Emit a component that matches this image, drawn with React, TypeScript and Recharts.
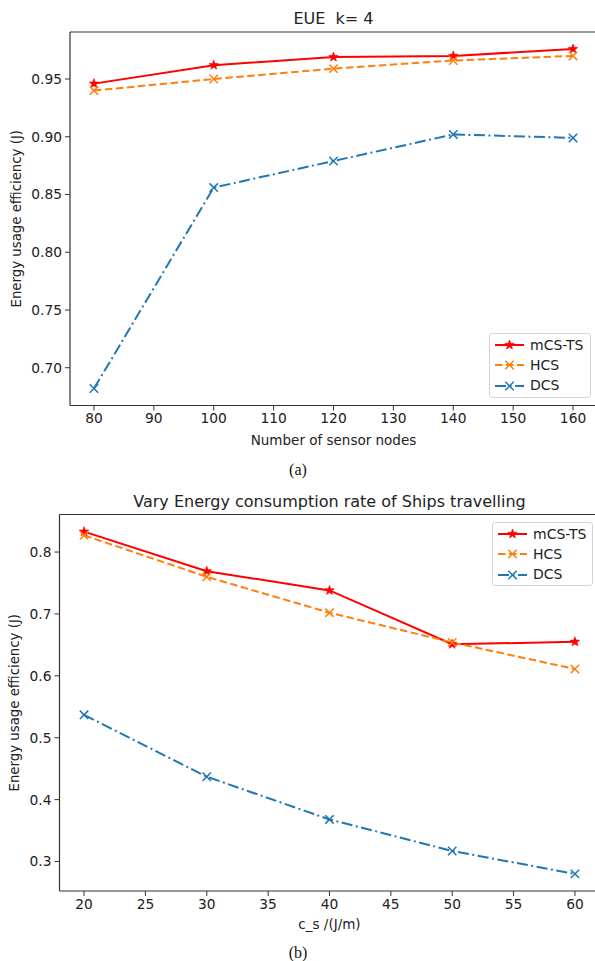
import React from 'react'
import { LineChart, Line, XAxis, YAxis, Legend, ReferenceLine } from 'recharts'

// (a) EUE vs number of sensor nodes
const nodeCounts = [80, 100, 120, 140, 160]
const eueMcsTs = [0.946, 0.962, 0.969, 0.970, 0.976]
const eueHcs = [0.940, 0.950, 0.959, 0.966, 0.970]
const eueDcs = [0.682, 0.856, 0.879, 0.902, 0.899]
const nodeTicks = [80, 90, 100, 110, 120, 130, 140, 150, 160]
const eueTicks = [0.7, 0.75, 0.8, 0.85, 0.9, 0.95]

// (b) EUE vs ship energy consumption rate
const csRates = [20, 30, 40, 50, 60]
const varyMcsTs = [0.833, 0.769, 0.738, 0.651, 0.655]
const varyHcs = [0.827, 0.760, 0.702, 0.654, 0.611]
const varyDcs = [0.537, 0.437, 0.368, 0.317, 0.280]
const csTicks = [20, 25, 30, 35, 40, 45, 50, 55, 60]
const varyTicks = [0.3, 0.4, 0.5, 0.6, 0.7, 0.8]

const FONT = '"DejaVu Sans", Verdana, sans-serif'
const TEXT = '#222'
const SPINE = '#333'

const seriesOrder = ['mcsts', 'hcs', 'dcs']
const seriesStyle: Record<string, { name: string; color: string; dash?: string; marker: 'star' | 'x' }> = {
  mcsts: { name: 'mCS-TS', color: '#ff0000', marker: 'star' },
  hcs: { name: 'HCS', color: '#ff7f0e', dash: '7.5 3.5', marker: 'x' },
  dcs: { name: 'DCS', color: '#1f77b4', dash: '11 3.5 2 3.5', marker: 'x' },
}

function starPoints(cx: number, cy: number, ro: number, ri: number) {
  const pts: string[] = []
  for (let i = 0; i < 10; i++) {
    const r = i % 2 === 0 ? ro : ri
    const a = -Math.PI / 2 + (i * Math.PI) / 5
    pts.push(`${cx + r * Math.cos(a)},${cy + r * Math.sin(a)}`)
  }
  return pts.join(' ')
}

function Marker({ cx, cy, kind, color }: { cx: number; cy: number; kind: 'star' | 'x'; color: string }) {
  if (kind === 'star') {
    return <polygon points={starPoints(cx, cy, 5, 2.1)} fill={color} stroke={color} strokeWidth={0.6} />
  }
  const s = 4.2
  return (
    <g stroke={color} strokeWidth={1.5}>
      <line x1={cx - s} y1={cy - s} x2={cx + s} y2={cy + s} />
      <line x1={cx - s} y1={cy + s} x2={cx + s} y2={cy - s} />
    </g>
  )
}

const makeDot = (key: string) => (props: any) => {
  const st = seriesStyle[key]
  const { cx, cy, index } = props
  if (cx == null || cy == null) return <g key={`${key}-${index}`} />
  return (
    <g key={`${key}-${index}`}>
      <Marker cx={cx} cy={cy} kind={st.marker} color={st.color} />
    </g>
  )
}

function LegendBox(props: any) {
  const items = [...((props.payload || []) as any[])].sort(
    (a, b) => seriesOrder.indexOf(a.dataKey) - seriesOrder.indexOf(b.dataKey),
  )
  return (
    <div
      style={{
        border: '1px solid #d4d4d4',
        borderRadius: 3,
        background: 'rgba(255,255,255,0.85)',
        padding: '1px 0',
        boxSizing: 'border-box',
        width: '100%',
        height: '100%',
      }}
    >
      {items.map((it) => {
        const st = seriesStyle[it.dataKey as string]
        return (
          <div key={st.name} style={{ display: 'flex', alignItems: 'center', height: 20.3 }}>
            <svg width={30} height={12} style={{ marginLeft: 5, marginRight: 9, display: 'block' }}>
              <line x1={0} y1={6} x2={29} y2={6} stroke={st.color} strokeWidth={2} strokeDasharray={st.dash} />
              <Marker cx={14.5} cy={6} kind={st.marker} color={st.color} />
            </svg>
            <span style={{ fontFamily: FONT, fontSize: 14, color: TEXT, lineHeight: '15px', marginLeft: -4 }}>{st.name}</span>
          </div>
        )
      })}
    </div>
  )
}

function padDomain(values: number[]): [number, number] {
  const lo = Math.min(...values)
  const hi = Math.max(...values)
  const m = (hi - lo) * 0.05
  return [lo - m, hi + m]
}

interface PanelProps {
  title: string
  xLabel: string
  xs: number[]
  mcsts: number[]
  hcs: number[]
  dcs: number[]
  xTicks: number[]
  yTicks: number[]
  yDigits: number
  width: number
  height: number
  margin: { top: number; right: number; left: number; bottom: number }
  yAxisWidth: number
  xAxisHeight: number
  yLabelX: number
  xLabelDy: number
  legendPos: { left: number; top: number; width: number; height: number }
}

function Panel(p: PanelProps) {
  const data = p.xs.map((x, i) => ({ x, mcsts: p.mcsts[i], hcs: p.hcs[i], dcs: p.dcs[i] }))
  const xDom = padDomain(p.xs)
  const yDom = padDomain([...p.mcsts, ...p.hcs, ...p.dcs])
  const tickStyle = { fill: TEXT, fontSize: 13.8, fontFamily: FONT }
  return (
    <LineChart width={p.width} height={p.height} data={data} margin={p.margin}>
      <XAxis
        dataKey="x"
        type="number"
        domain={xDom}
        ticks={p.xTicks}
        allowDataOverflow
        height={p.xAxisHeight}
        tick={tickStyle}
        tickSize={5}
        tickMargin={3}
        stroke={SPINE}
        axisLine={{ stroke: SPINE, strokeWidth: 1.2 }}
        tickLine={{ stroke: SPINE }}
        label={(lp: any) => {
          const vb = lp.viewBox
          return (
            <text x={vb.x + vb.width / 2} y={vb.y + p.xLabelDy} textAnchor="middle" fill={TEXT} fontSize={13.5} fontFamily={FONT}>
              {p.xLabel}
            </text>
          )
        }}
      />
      <YAxis
        type="number"
        domain={yDom}
        ticks={p.yTicks}
        allowDataOverflow
        width={p.yAxisWidth}
        tick={tickStyle}
        tickSize={5}
        tickMargin={3}
        tickFormatter={(v: number) => v.toFixed(p.yDigits)}
        axisLine={{ stroke: SPINE, strokeWidth: 1.2 }}
        tickLine={{ stroke: SPINE }}
        label={(lp: any) => {
          const vb = lp.viewBox
          const cy = vb.y + vb.height / 2
          return (
            <text
              x={p.yLabelX}
              y={cy}
              transform={`rotate(-90 ${p.yLabelX} ${cy})`}
              textAnchor="middle"
              fill={TEXT}
              fontSize={13.3}
              fontFamily={FONT}
            >
              Energy usage efficiency (J)
            </text>
          )
        }}
      />
      <ReferenceLine
        y={yDom[1]}
        stroke={SPINE}
        strokeWidth={1.2}
        ifOverflow="visible"
        label={{ value: p.title, position: 'top', offset: 8, fill: TEXT, fontSize: 16, fontFamily: FONT }}
      />
      <Legend
        layout="vertical"
        align="center"
        verticalAlign="middle"
        content={LegendBox}
        wrapperStyle={{ ...p.legendPos, position: 'absolute' }}
      />
      {seriesOrder.map((k) => (
        <Line
          key={k}
          type="linear"
          dataKey={k}
          name={seriesStyle[k].name}
          stroke={seriesStyle[k].color}
          strokeWidth={2}
          strokeDasharray={seriesStyle[k].dash}
          dot={makeDot(k)}
          activeDot={false}
          isAnimationActive={false}
        />
      ))}
    </LineChart>
  )
}

const captionStyle: React.CSSProperties = {
  position: 'absolute',
  width: 40,
  textAlign: 'center',
  fontFamily: '"Liberation Serif", "Times New Roman", serif',
  fontSize: 16,
  color: '#111',
  lineHeight: '18px',
}

export default function App() {
  return (
    <div style={{ position: 'absolute', left: 0, top: 0, width: 595, height: 961, overflow: 'hidden', background: '#fff' }}>
      <div style={{ position: 'absolute', left: 0, top: 0 }}>
        <Panel
          title={'EUE\u00a0\u00a0k= 4'}
          xLabel="Number of sensor nodes"
          xs={nodeCounts}
          mcsts={eueMcsTs}
          hcs={eueHcs}
          dcs={eueDcs}
          xTicks={nodeTicks}
          yTicks={eueTicks}
          yDigits={2}
          width={600}
          height={450}
          margin={{ top: 32, right: 3, left: 0, bottom: 0 }}
          yAxisWidth={70}
          xAxisHeight={44.5}
          yLabelX={21}
          xLabelDy={39.5}
          legendPos={{ left: 489, top: 333, width: 102, height: 65 }}
        />
      </div>
      <div style={{ ...captionStyle, left: 278, top: 461 }}>(a)</div>
      <div style={{ position: 'absolute', left: 0, top: 480 }}>
        <Panel
          title="Vary Energy consumption rate of Ships travelling"
          xLabel="c_s /(J/m)"
          xs={csRates}
          mcsts={varyMcsTs}
          hcs={varyHcs}
          dcs={varyDcs}
          xTicks={csTicks}
          yTicks={varyTicks}
          yDigits={1}
          width={602}
          height={481}
          margin={{ top: 34.5, right: 2.5, left: 0, bottom: 0 }}
          yAxisWidth={59.5}
          xAxisHeight={70}
          yLabelX={19}
          xLabelDy={38}
          legendPos={{ left: 492, top: 42, width: 101, height: 64 }}
        />
      </div>
      <div style={{ ...captionStyle, left: 278, top: 944 }}>(b)</div>
    </div>
  )
}
